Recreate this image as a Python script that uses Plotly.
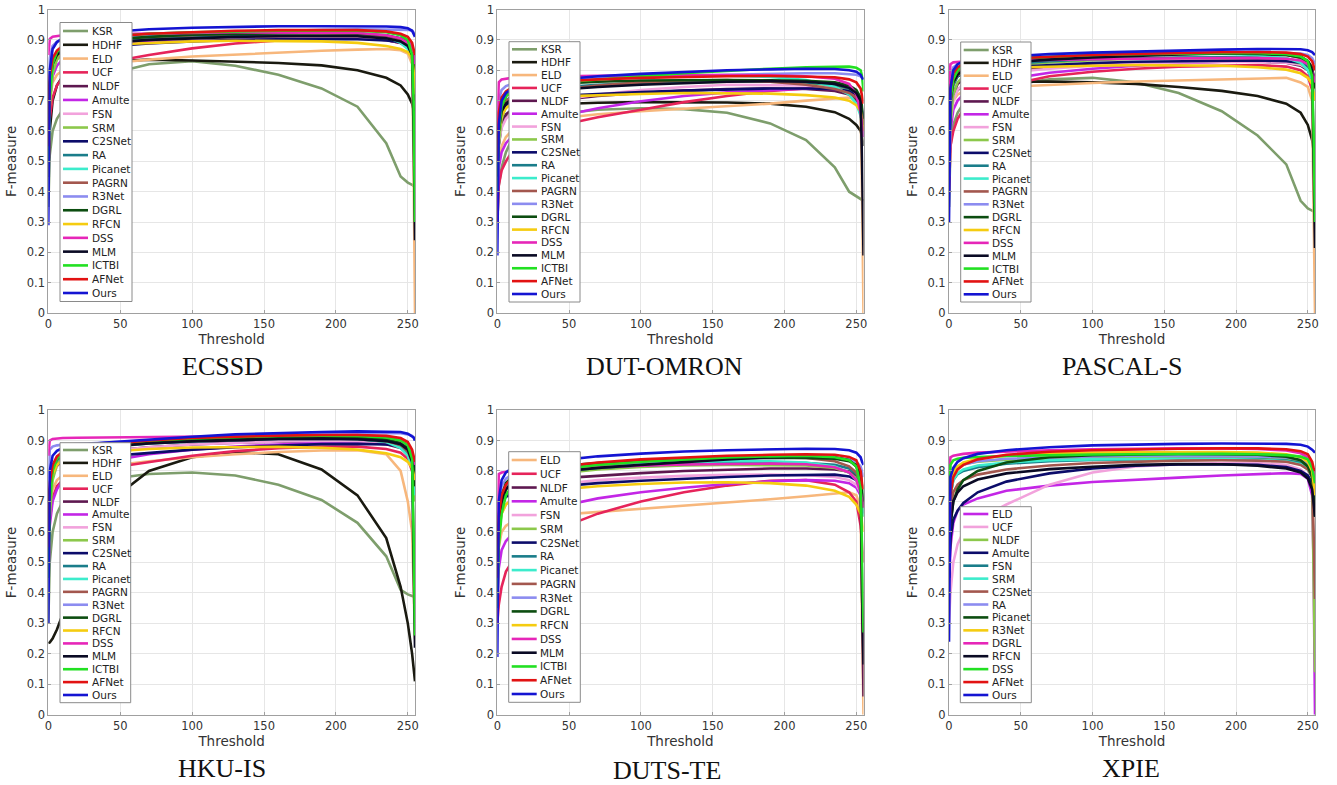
import plotly.graph_objects as go

W, H = 1337, 785

THRESH = [0, 1, 3, 6, 10, 20, 40, 70, 100, 130, 160, 190, 215, 235, 245, 250, 253, 254, 255]
Y_TICKS = [0, 0.1, 0.2, 0.3, 0.4, 0.5, 0.6, 0.7, 0.8, 0.9, 1.0]
Y_TICKTEXT = ["0", "0.1", "0.2", "0.3", "0.4", "0.5", "0.6", "0.7", "0.8", "0.9", "1"]
X_TICKS = [0, 50, 100, 150, 200, 250]

DATASETS = ["ECSSD", "DUT-OMRON", "PASCAL-S", "HKU-IS", "DUTS-TE", "XPIE"]

ecssd = {
    "KSR":    [0.35, 0.52, 0.6, 0.64, 0.67, 0.72, 0.785, 0.82, 0.83, 0.815, 0.785, 0.74, 0.68, 0.56, 0.45, 0.43, 0.423, 0.42, 0.415],
    "HDHF":   [0.45, 0.6, 0.7, 0.75, 0.78, 0.81, 0.828, 0.835, 0.832, 0.828, 0.824, 0.816, 0.8, 0.775, 0.75, 0.72, 0.69, 0.67, 0.65],
    "ELD":    [0.5, 0.7, 0.76, 0.785, 0.8, 0.81, 0.822, 0.835, 0.845, 0.852, 0.858, 0.864, 0.868, 0.87, 0.866, 0.855, 0.82, 0.5, 0.0],
    "UCF":    [0.45, 0.64, 0.71, 0.75, 0.775, 0.8, 0.825, 0.85, 0.872, 0.888, 0.898, 0.904, 0.905, 0.9, 0.89, 0.875, 0.84, 0.78, 0.7],
    "NLDF":   [0.5, 0.74, 0.81, 0.84, 0.855, 0.87, 0.883, 0.893, 0.9, 0.905, 0.907, 0.908, 0.906, 0.9, 0.89, 0.875, 0.85, 0.8, 0.75],
    "Amulte": [0.5, 0.7, 0.78, 0.815, 0.835, 0.858, 0.878, 0.895, 0.905, 0.912, 0.915, 0.917, 0.916, 0.912, 0.905, 0.895, 0.88, 0.85, 0.8],
    "FSN":    [0.5, 0.72, 0.8, 0.835, 0.85, 0.865, 0.88, 0.89, 0.898, 0.903, 0.905, 0.906, 0.905, 0.9, 0.892, 0.88, 0.86, 0.82, 0.78],
    "SRM":    [0.45, 0.68, 0.79, 0.835, 0.858, 0.88, 0.895, 0.905, 0.912, 0.917, 0.92, 0.92, 0.918, 0.91, 0.9, 0.885, 0.86, 0.8, 0.72],
    "C2SNet": [0.6, 0.8, 0.84, 0.853, 0.86, 0.868, 0.878, 0.888, 0.895, 0.9, 0.902, 0.903, 0.902, 0.898, 0.892, 0.882, 0.87, 0.85, 0.8],
    "RA":     [0.5, 0.74, 0.82, 0.85, 0.865, 0.88, 0.895, 0.905, 0.91, 0.915, 0.918, 0.92, 0.918, 0.912, 0.9, 0.885, 0.86, 0.82, 0.76],
    "Picanet":[0.5, 0.73, 0.82, 0.855, 0.87, 0.885, 0.9, 0.91, 0.918, 0.922, 0.925, 0.925, 0.922, 0.91, 0.89, 0.87, 0.84, 0.8, 0.72],
    "PAGRN":  [0.5, 0.75, 0.83, 0.86, 0.875, 0.89, 0.9, 0.91, 0.915, 0.92, 0.922, 0.922, 0.92, 0.91, 0.9, 0.885, 0.86, 0.82, 0.78],
    "R3Net":  [0.7, 0.84, 0.88, 0.893, 0.9, 0.905, 0.91, 0.915, 0.92, 0.925, 0.93, 0.933, 0.935, 0.935, 0.935, 0.933, 0.93, 0.925, 0.92],
    "DGRL":   [0.55, 0.76, 0.83, 0.86, 0.875, 0.89, 0.9, 0.91, 0.917, 0.92, 0.922, 0.922, 0.92, 0.915, 0.905, 0.89, 0.86, 0.82, 0.72],
    "RFCN":   [0.6, 0.75, 0.82, 0.848, 0.86, 0.873, 0.884, 0.89, 0.895, 0.897, 0.897, 0.895, 0.89, 0.88, 0.87, 0.86, 0.84, 0.8, 0.72],
    "DSS":    [0.85, 0.903, 0.91, 0.913, 0.915, 0.917, 0.919, 0.921, 0.923, 0.925, 0.925, 0.925, 0.923, 0.915, 0.905, 0.89, 0.87, 0.85, 0.82],
    "MLM":    [0.55, 0.75, 0.82, 0.85, 0.865, 0.88, 0.89, 0.9, 0.905, 0.91, 0.912, 0.913, 0.912, 0.905, 0.895, 0.88, 0.85, 0.6, 0.24],
    "ICTBI":  [0.5, 0.72, 0.82, 0.86, 0.88, 0.9, 0.91, 0.92, 0.925, 0.928, 0.93, 0.93, 0.93, 0.925, 0.915, 0.9, 0.85, 0.7, 0.3],
    "AFNet":  [0.55, 0.78, 0.84, 0.865, 0.88, 0.895, 0.91, 0.92, 0.925, 0.93, 0.932, 0.933, 0.932, 0.928, 0.92, 0.91, 0.89, 0.87, 0.85],
    "Ours":   [0.29, 0.8, 0.87, 0.893, 0.905, 0.915, 0.925, 0.935, 0.94, 0.943, 0.945, 0.945, 0.945, 0.944, 0.942, 0.938, 0.93, 0.92, 0.91],
}

dut_omron = {
    "KSR":    [0.3, 0.42, 0.48, 0.53, 0.57, 0.62, 0.655, 0.67, 0.675, 0.672, 0.66, 0.625, 0.57, 0.48, 0.4, 0.385, 0.378, 0.375, 0.37],
    "HDHF":   [0.35, 0.55, 0.62, 0.645, 0.66, 0.675, 0.688, 0.693, 0.695, 0.695, 0.694, 0.69, 0.68, 0.662, 0.64, 0.62, 0.6, 0.58, 0.55],
    "ELD":    [0.35, 0.5, 0.55, 0.58, 0.6, 0.62, 0.64, 0.655, 0.665, 0.673, 0.68, 0.69, 0.7, 0.708, 0.71, 0.7, 0.68, 0.4, 0.0],
    "UCF":    [0.3, 0.42, 0.47, 0.5, 0.53, 0.57, 0.615, 0.645, 0.67, 0.695, 0.715, 0.732, 0.74, 0.74, 0.73, 0.71, 0.66, 0.62, 0.58],
    "NLDF":   [0.4, 0.58, 0.63, 0.655, 0.67, 0.685, 0.7, 0.715, 0.725, 0.733, 0.738, 0.74, 0.738, 0.732, 0.72, 0.7, 0.67, 0.63, 0.6],
    "Amulte": [0.35, 0.48, 0.53, 0.56, 0.58, 0.61, 0.645, 0.675, 0.698, 0.715, 0.727, 0.735, 0.74, 0.738, 0.73, 0.715, 0.69, 0.66, 0.62],
    "FSN":    [0.4, 0.56, 0.61, 0.64, 0.66, 0.68, 0.7, 0.72, 0.735, 0.745, 0.752, 0.752, 0.75, 0.742, 0.73, 0.715, 0.69, 0.66, 0.63],
    "SRM":    [0.4, 0.56, 0.64, 0.68, 0.7, 0.72, 0.735, 0.748, 0.755, 0.76, 0.762, 0.762, 0.758, 0.75, 0.738, 0.72, 0.69, 0.65, 0.6],
    "C2SNet": [0.5, 0.64, 0.67, 0.685, 0.695, 0.705, 0.715, 0.722, 0.728, 0.733, 0.737, 0.74, 0.74, 0.738, 0.732, 0.72, 0.7, 0.67, 0.64],
    "RA":     [0.45, 0.6, 0.67, 0.7, 0.715, 0.73, 0.742, 0.752, 0.758, 0.762, 0.764, 0.764, 0.76, 0.752, 0.74, 0.725, 0.7, 0.66, 0.62],
    "Picanet":[0.45, 0.62, 0.69, 0.72, 0.735, 0.75, 0.762, 0.772, 0.778, 0.782, 0.782, 0.778, 0.768, 0.745, 0.72, 0.69, 0.65, 0.62, 0.58],
    "PAGRN":  [0.45, 0.6, 0.67, 0.7, 0.71, 0.72, 0.735, 0.75, 0.76, 0.766, 0.768, 0.762, 0.752, 0.738, 0.725, 0.71, 0.69, 0.66, 0.62],
    "R3Net":  [0.55, 0.7, 0.735, 0.748, 0.755, 0.762, 0.768, 0.774, 0.778, 0.782, 0.785, 0.788, 0.79, 0.79, 0.788, 0.785, 0.78, 0.775, 0.77],
    "DGRL":   [0.45, 0.6, 0.68, 0.715, 0.73, 0.745, 0.755, 0.762, 0.766, 0.768, 0.768, 0.767, 0.765, 0.76, 0.75, 0.735, 0.71, 0.68, 0.64],
    "RFCN":   [0.45, 0.6, 0.65, 0.675, 0.69, 0.703, 0.713, 0.718, 0.722, 0.725, 0.725, 0.723, 0.718, 0.71, 0.7, 0.685, 0.665, 0.64, 0.6],
    "DSS":    [0.6, 0.76, 0.77, 0.773, 0.775, 0.778, 0.78, 0.782, 0.783, 0.784, 0.784, 0.783, 0.78, 0.772, 0.755, 0.72, 0.66, 0.62, 0.58],
    "MLM":    [0.45, 0.6, 0.665, 0.69, 0.705, 0.72, 0.735, 0.745, 0.752, 0.758, 0.762, 0.764, 0.762, 0.755, 0.742, 0.725, 0.7, 0.5, 0.19],
    "ICTBI":  [0.4, 0.6, 0.68, 0.715, 0.73, 0.745, 0.758, 0.77, 0.78, 0.79, 0.798, 0.805, 0.81, 0.812, 0.812, 0.808, 0.8, 0.78, 0.73],
    "AFNet":  [0.5, 0.66, 0.71, 0.73, 0.742, 0.752, 0.762, 0.77, 0.775, 0.778, 0.78, 0.781, 0.78, 0.777, 0.77, 0.76, 0.74, 0.71, 0.69],
    "Ours":   [0.19, 0.62, 0.7, 0.725, 0.738, 0.752, 0.768, 0.78, 0.788, 0.795, 0.8, 0.803, 0.805, 0.804, 0.8, 0.795, 0.785, 0.775, 0.77],
}

pascal_s = {
    "KSR":    [0.35, 0.55, 0.62, 0.66, 0.69, 0.72, 0.75, 0.77, 0.775, 0.76, 0.725, 0.665, 0.585, 0.49, 0.37, 0.345, 0.338, 0.335, 0.333],
    "HDHF":   [0.45, 0.65, 0.71, 0.735, 0.748, 0.758, 0.762, 0.763, 0.76, 0.755, 0.745, 0.732, 0.715, 0.69, 0.66, 0.62, 0.57, 0.54, 0.5],
    "ELD":    [0.45, 0.65, 0.7, 0.72, 0.73, 0.738, 0.745, 0.752, 0.758, 0.763, 0.767, 0.771, 0.774, 0.775, 0.76, 0.745, 0.7, 0.4, 0.0],
    "UCF":    [0.4, 0.55, 0.6, 0.64, 0.67, 0.71, 0.75, 0.78, 0.795, 0.805, 0.812, 0.816, 0.817, 0.812, 0.8, 0.78, 0.74, 0.72, 0.7],
    "NLDF":   [0.45, 0.65, 0.72, 0.755, 0.77, 0.785, 0.8, 0.81, 0.818, 0.823, 0.826, 0.828, 0.828, 0.825, 0.815, 0.8, 0.77, 0.74, 0.7],
    "Amulte": [0.45, 0.6, 0.67, 0.7, 0.72, 0.745, 0.77, 0.792, 0.805, 0.815, 0.822, 0.828, 0.83, 0.828, 0.82, 0.805, 0.78, 0.75, 0.72],
    "FSN":    [0.45, 0.63, 0.7, 0.735, 0.755, 0.775, 0.792, 0.805, 0.815, 0.822, 0.826, 0.828, 0.828, 0.825, 0.818, 0.805, 0.78, 0.75, 0.72],
    "SRM":    [0.45, 0.63, 0.72, 0.76, 0.78, 0.8, 0.815, 0.826, 0.833, 0.838, 0.84, 0.84, 0.838, 0.832, 0.822, 0.805, 0.78, 0.74, 0.7],
    "C2SNet": [0.55, 0.72, 0.76, 0.78, 0.79, 0.8, 0.81, 0.818, 0.824, 0.828, 0.83, 0.832, 0.832, 0.83, 0.825, 0.815, 0.8, 0.78, 0.75],
    "RA":     [0.5, 0.68, 0.75, 0.78, 0.795, 0.808, 0.82, 0.83, 0.836, 0.84, 0.842, 0.843, 0.842, 0.838, 0.83, 0.815, 0.79, 0.76, 0.72],
    "Picanet":[0.5, 0.68, 0.76, 0.79, 0.805, 0.82, 0.832, 0.842, 0.848, 0.852, 0.854, 0.854, 0.85, 0.84, 0.825, 0.8, 0.77, 0.74, 0.7],
    "PAGRN":  [0.5, 0.68, 0.76, 0.79, 0.805, 0.82, 0.832, 0.842, 0.848, 0.853, 0.856, 0.857, 0.855, 0.85, 0.84, 0.825, 0.8, 0.77, 0.74],
    "R3Net":  [0.6, 0.78, 0.81, 0.82, 0.826, 0.832, 0.838, 0.845, 0.85, 0.855, 0.858, 0.86, 0.86, 0.858, 0.855, 0.85, 0.84, 0.83, 0.82],
    "DGRL":   [0.5, 0.7, 0.77, 0.8, 0.813, 0.825, 0.835, 0.843, 0.848, 0.852, 0.854, 0.855, 0.854, 0.85, 0.842, 0.83, 0.81, 0.78, 0.74],
    "RFCN":   [0.55, 0.7, 0.76, 0.785, 0.795, 0.803, 0.808, 0.812, 0.815, 0.817, 0.817, 0.815, 0.81, 0.802, 0.79, 0.775, 0.755, 0.73, 0.7],
    "DSS":    [0.75, 0.82, 0.826, 0.828, 0.829, 0.83, 0.832, 0.834, 0.836, 0.838, 0.84, 0.84, 0.84, 0.838, 0.832, 0.82, 0.8, 0.78, 0.76],
    "MLM":    [0.5, 0.7, 0.76, 0.785, 0.8, 0.812, 0.825, 0.835, 0.842, 0.848, 0.852, 0.855, 0.855, 0.852, 0.845, 0.83, 0.8, 0.5, 0.215],
    "ICTBI":  [0.5, 0.7, 0.77, 0.8, 0.815, 0.828, 0.838, 0.845, 0.85, 0.853, 0.855, 0.856, 0.856, 0.853, 0.845, 0.83, 0.78, 0.6, 0.3],
    "AFNet":  [0.55, 0.74, 0.79, 0.81, 0.82, 0.83, 0.838, 0.845, 0.85, 0.854, 0.857, 0.859, 0.86, 0.858, 0.853, 0.845, 0.83, 0.81, 0.8],
    "Ours":   [0.3, 0.74, 0.8, 0.82, 0.83, 0.838, 0.845, 0.853, 0.858, 0.862, 0.866, 0.868, 0.87, 0.87, 0.869, 0.866, 0.86, 0.855, 0.85],
}

hku_is = {
    "KSR":    [0.3, 0.5, 0.6, 0.66, 0.7, 0.74, 0.772, 0.79, 0.795, 0.785, 0.755, 0.705, 0.63, 0.52, 0.41, 0.395, 0.39, 0.388, 0.385],
    "HDHF":   [0.235, 0.237, 0.25, 0.28, 0.33, 0.47, 0.69, 0.8, 0.845, 0.862, 0.855, 0.805, 0.72, 0.58, 0.42, 0.3, 0.2, 0.16, 0.11],
    "ELD":    [0.5, 0.68, 0.74, 0.77, 0.785, 0.8, 0.815, 0.832, 0.845, 0.855, 0.862, 0.867, 0.868, 0.855, 0.8, 0.7, 0.6, 0.45, 0.25],
    "UCF":    [0.45, 0.64, 0.71, 0.75, 0.77, 0.79, 0.808, 0.83, 0.85, 0.865, 0.875, 0.88, 0.88, 0.872, 0.86, 0.84, 0.8, 0.77, 0.74],
    "NLDF":   [0.5, 0.72, 0.79, 0.82, 0.835, 0.85, 0.865, 0.878, 0.887, 0.893, 0.896, 0.897, 0.895, 0.888, 0.875, 0.86, 0.83, 0.79, 0.75],
    "Amulte": [0.45, 0.62, 0.7, 0.74, 0.77, 0.8, 0.83, 0.855, 0.87, 0.88, 0.887, 0.893, 0.895, 0.893, 0.885, 0.87, 0.84, 0.8, 0.75],
    "FSN":    [0.5, 0.7, 0.78, 0.815, 0.83, 0.848, 0.865, 0.878, 0.887, 0.893, 0.897, 0.899, 0.898, 0.893, 0.885, 0.87, 0.85, 0.82, 0.78],
    "SRM":    [0.45, 0.65, 0.77, 0.82, 0.845, 0.868, 0.884, 0.895, 0.902, 0.906, 0.908, 0.908, 0.905, 0.897, 0.885, 0.865, 0.83, 0.78, 0.7],
    "C2SNet": [0.55, 0.75, 0.8, 0.82, 0.83, 0.838, 0.848, 0.86, 0.87, 0.878, 0.884, 0.888, 0.889, 0.887, 0.882, 0.872, 0.855, 0.83, 0.8],
    "RA":     [0.5, 0.72, 0.8, 0.835, 0.85, 0.865, 0.878, 0.89, 0.897, 0.902, 0.905, 0.906, 0.904, 0.896, 0.882, 0.865, 0.83, 0.79, 0.74],
    "Picanet":[0.5, 0.72, 0.8, 0.84, 0.857, 0.873, 0.886, 0.897, 0.904, 0.909, 0.911, 0.911, 0.907, 0.895, 0.875, 0.85, 0.81, 0.77, 0.72],
    "PAGRN":  [0.5, 0.72, 0.8, 0.838, 0.855, 0.87, 0.883, 0.895, 0.903, 0.909, 0.912, 0.912, 0.908, 0.898, 0.885, 0.865, 0.83, 0.79, 0.75],
    "R3Net":  [0.7, 0.87, 0.88, 0.884, 0.886, 0.889, 0.893, 0.9, 0.907, 0.913, 0.918, 0.922, 0.924, 0.925, 0.924, 0.92, 0.915, 0.91, 0.9],
    "DGRL":   [0.5, 0.73, 0.81, 0.845, 0.86, 0.875, 0.887, 0.897, 0.904, 0.908, 0.91, 0.911, 0.909, 0.903, 0.893, 0.878, 0.85, 0.81, 0.75],
    "RFCN":   [0.55, 0.72, 0.79, 0.82, 0.835, 0.85, 0.862, 0.872, 0.877, 0.879, 0.879, 0.876, 0.87, 0.858, 0.845, 0.83, 0.81, 0.79, 0.77],
    "DSS":    [0.85, 0.9, 0.905, 0.907, 0.908, 0.909, 0.91, 0.911, 0.912, 0.914, 0.916, 0.918, 0.918, 0.912, 0.9, 0.885, 0.86, 0.84, 0.82],
    "MLM":    [0.5, 0.74, 0.81, 0.84, 0.855, 0.868, 0.88, 0.89, 0.897, 0.902, 0.905, 0.906, 0.904, 0.898, 0.888, 0.87, 0.83, 0.5, 0.22],
    "ICTBI":  [0.45, 0.7, 0.8, 0.84, 0.858, 0.875, 0.888, 0.9, 0.907, 0.912, 0.915, 0.916, 0.915, 0.91, 0.9, 0.885, 0.84, 0.6, 0.26],
    "AFNet":  [0.55, 0.76, 0.82, 0.848, 0.862, 0.875, 0.888, 0.9, 0.908, 0.913, 0.916, 0.918, 0.918, 0.915, 0.908, 0.895, 0.87, 0.85, 0.83],
    "Ours":   [0.3, 0.8, 0.85, 0.866, 0.875, 0.884, 0.893, 0.903, 0.912, 0.92, 0.925, 0.928, 0.93, 0.93, 0.928, 0.922, 0.915, 0.91, 0.9],
}

duts_te = {
    "ELD":    [0.4, 0.55, 0.6, 0.62, 0.632, 0.645, 0.655, 0.665, 0.675, 0.685, 0.695, 0.707, 0.717, 0.727, 0.73, 0.72, 0.68, 0.3, 0.0],
    "UCF":    [0.3, 0.36, 0.42, 0.47, 0.5, 0.55, 0.605, 0.66, 0.7, 0.73, 0.752, 0.768, 0.77, 0.755, 0.73, 0.7, 0.62, 0.56, 0.5],
    "NLDF":   [0.45, 0.66, 0.72, 0.745, 0.755, 0.765, 0.775, 0.785, 0.793, 0.8, 0.805, 0.808, 0.808, 0.805, 0.798, 0.785, 0.76, 0.4, 0.06],
    "Amulte": [0.35, 0.48, 0.54, 0.57, 0.59, 0.63, 0.68, 0.71, 0.73, 0.745, 0.757, 0.766, 0.77, 0.768, 0.76, 0.745, 0.72, 0.69, 0.66],
    "FSN":    [0.45, 0.6, 0.66, 0.69, 0.71, 0.735, 0.755, 0.77, 0.778, 0.784, 0.787, 0.788, 0.786, 0.78, 0.77, 0.755, 0.73, 0.7, 0.67],
    "SRM":    [0.4, 0.58, 0.68, 0.72, 0.745, 0.77, 0.79, 0.805, 0.813, 0.818, 0.82, 0.82, 0.818, 0.81, 0.795, 0.775, 0.74, 0.7, 0.65],
    "C2SNet": [0.5, 0.66, 0.7, 0.715, 0.725, 0.735, 0.748, 0.76, 0.768, 0.775, 0.78, 0.785, 0.788, 0.788, 0.782, 0.77, 0.75, 0.72, 0.69],
    "RA":     [0.45, 0.62, 0.7, 0.74, 0.76, 0.78, 0.797, 0.81, 0.818, 0.823, 0.826, 0.827, 0.826, 0.82, 0.808, 0.79, 0.76, 0.72, 0.68],
    "Picanet":[0.45, 0.63, 0.71, 0.75, 0.77, 0.79, 0.805, 0.818, 0.825, 0.83, 0.832, 0.832, 0.828, 0.815, 0.795, 0.77, 0.73, 0.69, 0.65],
    "PAGRN":  [0.45, 0.62, 0.7, 0.74, 0.76, 0.782, 0.8, 0.818, 0.83, 0.838, 0.843, 0.845, 0.843, 0.832, 0.815, 0.795, 0.76, 0.72, 0.68],
    "R3Net":  [0.55, 0.7, 0.75, 0.775, 0.788, 0.8, 0.812, 0.822, 0.83, 0.836, 0.84, 0.843, 0.844, 0.843, 0.838, 0.83, 0.815, 0.8, 0.78],
    "DGRL":   [0.45, 0.64, 0.72, 0.76, 0.78, 0.8, 0.815, 0.826, 0.833, 0.838, 0.841, 0.843, 0.843, 0.84, 0.832, 0.82, 0.79, 0.75, 0.7],
    "RFCN":   [0.45, 0.6, 0.66, 0.69, 0.705, 0.722, 0.738, 0.75, 0.757, 0.762, 0.763, 0.76, 0.752, 0.735, 0.715, 0.69, 0.66, 0.63, 0.6],
    "DSS":    [0.55, 0.79, 0.795, 0.798, 0.8, 0.803, 0.807, 0.812, 0.817, 0.821, 0.823, 0.824, 0.822, 0.812, 0.795, 0.77, 0.73, 0.7, 0.68],
    "MLM":    [0.45, 0.62, 0.7, 0.74, 0.76, 0.78, 0.797, 0.81, 0.82, 0.83, 0.838, 0.845, 0.848, 0.845, 0.835, 0.815, 0.78, 0.4, 0.165],
    "ICTBI":  [0.35, 0.55, 0.66, 0.72, 0.75, 0.78, 0.803, 0.82, 0.83, 0.838, 0.844, 0.848, 0.849, 0.845, 0.835, 0.815, 0.75, 0.55, 0.27],
    "AFNet":  [0.45, 0.65, 0.72, 0.755, 0.775, 0.795, 0.812, 0.828, 0.838, 0.845, 0.85, 0.853, 0.855, 0.853, 0.846, 0.835, 0.8, 0.76, 0.74],
    "Ours":   [0.19, 0.7, 0.77, 0.795, 0.808, 0.82, 0.833, 0.848, 0.857, 0.864, 0.868, 0.871, 0.873, 0.872, 0.868, 0.86, 0.845, 0.83, 0.82],
}

xpie = {
    "ELD":    [0.4, 0.55, 0.63, 0.67, 0.69, 0.71, 0.735, 0.752, 0.764, 0.772, 0.778, 0.785, 0.79, 0.793, 0.79, 0.775, 0.72, 0.5, 0.0],
    "UCF":    [0.3, 0.4, 0.5, 0.56, 0.6, 0.64, 0.69, 0.755, 0.795, 0.815, 0.822, 0.826, 0.826, 0.82, 0.805, 0.785, 0.75, 0.73, 0.72],
    "NLDF":   [0.55, 0.75, 0.8, 0.815, 0.822, 0.83, 0.837, 0.842, 0.845, 0.846, 0.846, 0.845, 0.843, 0.838, 0.83, 0.815, 0.78, 0.5, 0.14],
    "Amulte": [0.45, 0.58, 0.64, 0.67, 0.695, 0.73, 0.765, 0.792, 0.808, 0.817, 0.821, 0.822, 0.82, 0.813, 0.8, 0.785, 0.76, 0.73, 0.7],
    "FSN":    [0.5, 0.72, 0.77, 0.79, 0.8, 0.812, 0.824, 0.832, 0.836, 0.838, 0.839, 0.839, 0.838, 0.834, 0.827, 0.815, 0.79, 0.76, 0.72],
    "SRM":    [0.5, 0.72, 0.77, 0.793, 0.805, 0.818, 0.828, 0.835, 0.838, 0.84, 0.84, 0.839, 0.837, 0.832, 0.822, 0.805, 0.78, 0.75, 0.72],
    "C2SNet": [0.5, 0.68, 0.73, 0.755, 0.77, 0.788, 0.805, 0.818, 0.826, 0.831, 0.834, 0.835, 0.834, 0.83, 0.82, 0.805, 0.78, 0.6, 0.38],
    "RA":     [0.5, 0.74, 0.79, 0.81, 0.82, 0.832, 0.84, 0.845, 0.848, 0.85, 0.85, 0.85, 0.848, 0.844, 0.837, 0.825, 0.8, 0.78, 0.75],
    "Picanet":[0.45, 0.62, 0.7, 0.74, 0.77, 0.8, 0.828, 0.845, 0.852, 0.855, 0.856, 0.855, 0.853, 0.847, 0.835, 0.815, 0.78, 0.72, 0.65],
    "R3Net":  [0.5, 0.73, 0.79, 0.815, 0.828, 0.84, 0.85, 0.857, 0.86, 0.862, 0.862, 0.862, 0.86, 0.855, 0.845, 0.83, 0.8, 0.76, 0.72],
    "DGRL":   [0.75, 0.845, 0.85, 0.853, 0.856, 0.86, 0.864, 0.868, 0.871, 0.873, 0.874, 0.874, 0.872, 0.867, 0.858, 0.845, 0.82, 0.8, 0.78],
    "RFCN":   [0.45, 0.63, 0.7, 0.73, 0.75, 0.772, 0.792, 0.806, 0.814, 0.82, 0.823, 0.822, 0.817, 0.808, 0.795, 0.775, 0.74, 0.7, 0.65],
    "DSS":    [0.6, 0.82, 0.835, 0.84, 0.843, 0.846, 0.849, 0.852, 0.854, 0.855, 0.856, 0.856, 0.855, 0.852, 0.847, 0.838, 0.81, 0.79, 0.76],
    "AFNet":  [0.5, 0.72, 0.78, 0.805, 0.82, 0.838, 0.853, 0.863, 0.868, 0.871, 0.873, 0.874, 0.874, 0.871, 0.865, 0.855, 0.83, 0.81, 0.8],
    "Ours":   [0.24, 0.78, 0.81, 0.83, 0.842, 0.856, 0.868, 0.878, 0.884, 0.887, 0.889, 0.89, 0.89, 0.889, 0.886, 0.88, 0.87, 0.865, 0.86],
}

# MATLAB-like line colours in legend order
PALETTE = {
    "KSR": "#7e9e6c", "HDHF": "#1a1a10", "ELD": "#f7b77c", "UCF": "#e6245a",
    "NLDF": "#5e1850", "Amulte": "#c326e6", "FSN": "#f2a2dc", "SRM": "#8cc84b",
    "C2SNet": "#0c0c6a", "RA": "#1a7d8a", "Picanet": "#3ceccc", "PAGRN": "#a3574e",
    "R3Net": "#8c8cf0", "DGRL": "#0c4d10", "RFCN": "#f5cc10", "DSS": "#e626b8",
    "MLM": "#0a0a24", "ICTBI": "#22e022", "AFNet": "#e21212", "Ours": "#1414d2",
}
# XPIE panel uses the colour sequence shifted
XPIE_COLORS = {
    "ELD": PALETTE["Amulte"], "UCF": PALETTE["FSN"], "NLDF": PALETTE["SRM"],
    "Amulte": PALETTE["C2SNet"], "FSN": PALETTE["RA"], "SRM": PALETTE["Picanet"],
    "C2SNet": PALETTE["PAGRN"], "RA": PALETTE["R3Net"], "Picanet": PALETTE["DGRL"],
    "R3Net": PALETTE["RFCN"], "DGRL": PALETTE["DSS"], "RFCN": PALETTE["MLM"],
    "DSS": PALETTE["ICTBI"], "AFNet": PALETTE["AFNet"], "Ours": PALETTE["Ours"],
}

panels = [
    (ecssd, PALETTE), (dut_omron, PALETTE), (pascal_s, PALETTE),
    (hku_is, PALETTE), (duts_te, PALETTE), (xpie, XPIE_COLORS),
]

# ---- layout geometry (pixels) ----
COLS = [(48.3, 415.0), (497.3, 863.5), (949.0, 1315.0)]
ROWS = [(9.5, 313.2), (410.0, 714.8)]
# legend boxes: left, top, right, bottom, first item centre y, last item centre y
LEGENDS = [
    (60.0, 22.5, 132.0, 301.5, 31.0, 293.0),
    (509.0, 41.7, 580.0, 302.0, 49.3, 294.0),
    (960.7, 42.0, 1031.0, 302.0, 50.0, 294.3),
    (60.0, 442.7, 130.7, 702.7, 450.0, 695.0),
    (508.7, 451.7, 580.3, 702.3, 460.0, 694.0),
    (960.3, 506.7, 1031.3, 702.7, 514.0, 695.0),
]
TITLE_POS = [(222, 366), (664, 366), (1122, 366), (222, 768), (667, 770), (1131, 768)]


def px(x):
    return x / W


def py(y):
    return 1 - y / H


FONT = "DejaVu Sans, Arial, sans-serif"
fig = go.Figure()
layout = dict(
    template="none",
    width=W, height=H, margin=dict(l=0, r=0, t=0, b=0, pad=0), autosize=False,
    paper_bgcolor="white", plot_bgcolor="white", showlegend=False,
    font=dict(family=FONT, color="#333333"),
)
shapes = []
annotations = []

for i, (data, colors) in enumerate(panels):
    r, c = divmod(i, 3)
    ax = "" if i == 0 else str(i + 1)
    x0, x1 = COLS[c]
    ytop, ybot = ROWS[r]
    layout["xaxis" + ax] = dict(
        domain=[px(x0), px(x1)], range=[0, 255], anchor="y" + ax, automargin=False,
        tickvals=X_TICKS, showgrid=True, gridcolor="#e6e6e6", gridwidth=1,
        showline=True, mirror=True, linecolor="#a0a0a0", linewidth=1,
        zeroline=False, ticks="inside", ticklen=3, tickcolor="#a0a0a0",
        tickfont=dict(size=11.5, color="#333333"),
        title=dict(text="Threshold", font=dict(size=13.5, color="#333333"), standoff=4),
    )
    layout["yaxis" + ax] = dict(
        domain=[py(ybot), py(ytop)], range=[0, 1], anchor="x" + ax, automargin=False,
        tickvals=Y_TICKS, ticktext=Y_TICKTEXT, showgrid=True, gridcolor="#e6e6e6",
        showline=True, mirror=True, linecolor="#a0a0a0", linewidth=1,
        zeroline=False, ticks="inside", ticklen=3, tickcolor="#a0a0a0",
        tickfont=dict(size=11.5, color="#333333"),
        title=dict(text="F-measure", font=dict(size=13.5, color="#333333"), standoff=6),
    )
    for name, vals in data.items():
        fig.add_trace(go.Scatter(
            x=THRESH, y=vals, mode="lines", name=name,
            line=dict(color=colors[name], width=2.6),
            xaxis="x" + ax, yaxis="y" + ax, hoverinfo="x+y+name",
        ))

    # manual legend box
    lx0, ly0, lx1, ly1, first, last = LEGENDS[i]
    names = list(data.keys())
    step = (last - first) / (len(names) - 1)
    shapes.append(dict(type="rect", xref="paper", yref="paper",
                       x0=px(lx0), x1=px(lx1), y0=py(ly1), y1=py(ly0),
                       fillcolor="white", line=dict(color="#8a8a8a", width=1), layer="above"))
    for k, name in enumerate(names):
        yy = first + k * step
        shapes.append(dict(type="line", xref="paper", yref="paper",
                           x0=px(lx0 + 3), x1=px(lx0 + 28), y0=py(yy), y1=py(yy),
                           line=dict(color=colors[name], width=2.6), layer="above"))
        annotations.append(dict(xref="paper", yref="paper", x=px(lx0 + 29.5), y=py(yy),
                                text=name, showarrow=False, xanchor="left", yanchor="middle",
                                font=dict(family=FONT, size=10.5, color="#222222")))

    tx, ty = TITLE_POS[i]
    annotations.append(dict(xref="paper", yref="paper", x=px(tx), y=py(ty),
                            text=DATASETS[i], showarrow=False, xanchor="center", yanchor="middle",
                            font=dict(family="Liberation Serif, Times New Roman, serif",
                                      size=26, color="#111111")))

layout["shapes"] = shapes
layout["annotations"] = annotations
fig.update_layout(**layout)
fig.write_html(
    "out.html",
    config={"displayModeBar": False},
    post_script="document.body.style.margin='0';document.body.style.overflow='hidden';",
)
